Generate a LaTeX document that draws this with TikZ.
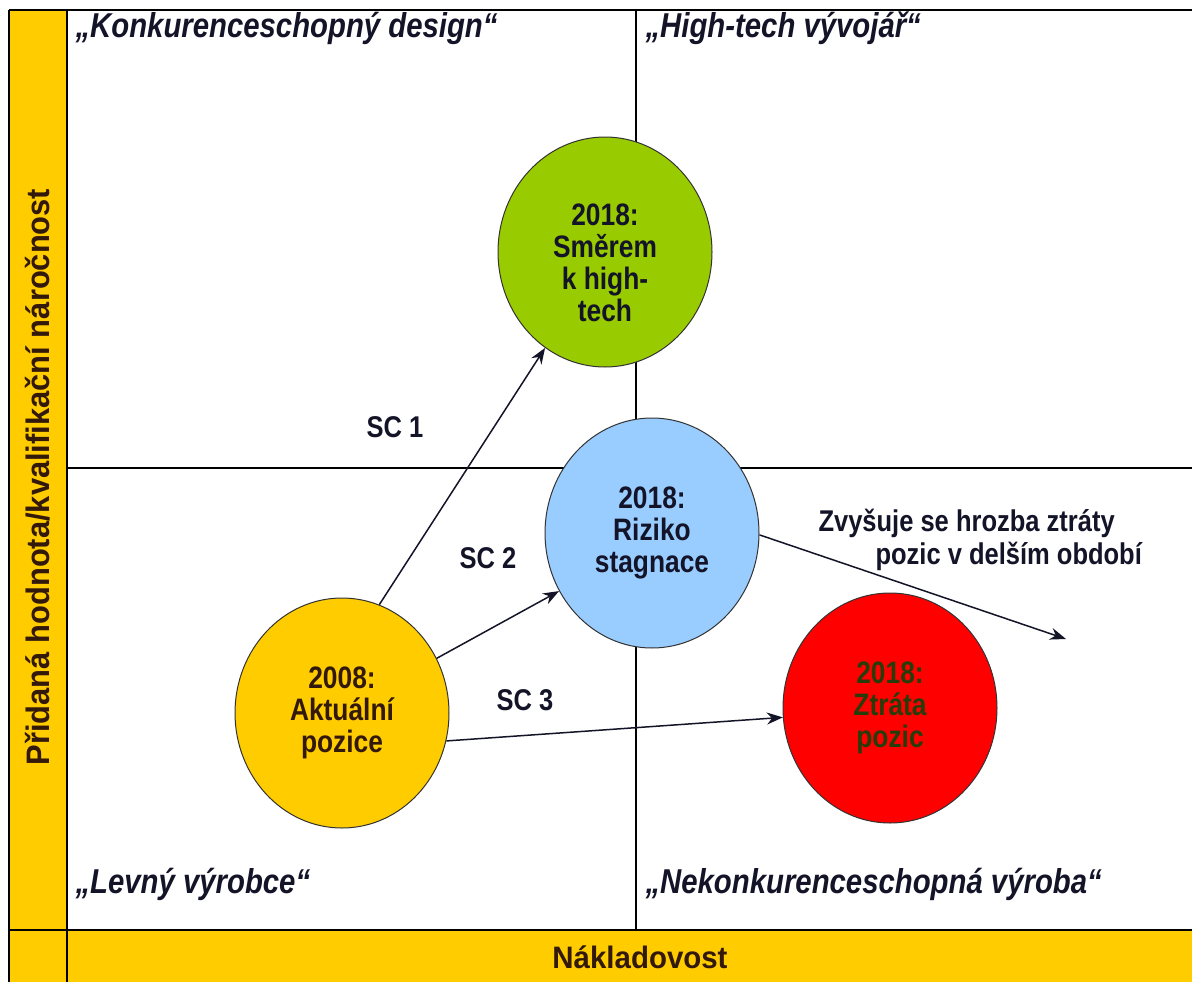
\documentclass[tikz,border=0pt]{standalone}
\usepackage{fontspec}
\setmainfont{Liberation Sans}
\newfontfamily\narrowfont[FakeStretch=0.85]{Liberation Sans}
\newfontfamily\widefont[FakeStretch=0.95]{Liberation Sans}
\usetikzlibrary{shapes.geometric,arrows.meta}

\definecolor{gold}{RGB}{255,204,0}
\definecolor{leaf}{RGB}{153,204,0}
\definecolor{sky}{RGB}{153,204,255}
\definecolor{alarm}{RGB}{255,0,0}
\definecolor{ink}{RGB}{20,20,40}
\definecolor{brownink}{RGB}{50,25,10}
\definecolor{olive}{RGB}{40,60,10}

\begin{document}
\begin{tikzpicture}[x=1pt,y=-1pt,
    bubble/.style={ellipse, draw=black!80, line width=1pt, minimum width=214pt,
        minimum height=230pt, inner sep=0pt, align=center,
        font=\narrowfont\bfseries\fontsize{31}{32}\selectfont},
    scen/.style={text=ink, font=\narrowfont\bfseries\fontsize{30}{33}\selectfont},
    quad/.style={anchor=base west, text=ink, font=\narrowfont\bfseries\itshape\fontsize{34.5}{36}\selectfont},
    axis/.style={text=brownink, font=\widefont\bfseries\fontsize{31}{33}\selectfont},
    move/.style={-{Stealth[length=16pt,width=12pt]}, line width=1.5pt, draw=ink}]
    \useasboundingbox (0,0) rectangle (1192,982);
    \fill[white] (0,0) rectangle (1192,982);
    \fill[gold] (9,10) rectangle (67,982);
    \fill[gold] (67,930) rectangle (1192,982);
    \draw[line width=2pt] (9,10) -- (1192,10);
    \draw[line width=2pt] (9,10) -- (9,982);
    \draw[line width=2pt] (9,930) -- (1192,930);
    \draw[line width=1.5pt] (67,10) -- (67,982);
    \draw[line width=1.2pt] (636,10) -- (636,930);
    \draw[line width=1.2pt] (67,468) -- (1192,468);

    \node[axis, rotate=90, font=\widefont\bfseries\fontsize{32.5}{34}\selectfont] (hodnota) at (38,477) {Přidaná hodnota/kvalifikační náročnost};
    \node[axis] (naklady) at (640,957) {Nákladovost};

    \node[quad] (designq) at (72,38) {„Konkurenceschopný design“};
    \node[quad] (hightechq) at (642,38) {„High-tech vývojář“};
    \node[quad] (levnyq) at (72,893) {„Levný výrobce“};
    \node[quad] (nekonq) at (642,893) {„Nekonkurenceschopná výroba“};

    \node[bubble, fill=leaf, text=ink] (hightech) at (605,252) {\mbox{}\\[12pt]2018:\\Směrem\\k high-\\tech};
    \node[bubble, fill=sky, text=ink] (stagnace) at (652,533) {2018:\\Riziko\\stagnace};
    \node[bubble, fill=gold, text=brownink] (aktualni) at (342,713) {2008:\\Aktuální\\pozice};
    \node[bubble, fill=alarm, text=olive] (ztrata) at (890,708) {2018:\\Ztráta\\pozic};
    \coordinate (hrozba) at (1066,639);

    \draw[move] (aktualni.71) -- (hightech.238);
    \draw[move] (aktualni.30) -- (stagnace.212);
    \draw[move] (aktualni.345) -- (ztrata.185);
    \draw[move] (stagnace.359) -- (hrozba);

    \node[scen] (sc1) at (395,427) {SC 1};
    \node[scen] (sc2) at (488,558) {SC 2};
    \node[scen] (sc3) at (525,700) {SC 3};
    \node[scen, anchor=west, align=left] (varovani) at (815,540)
        {Zvyšuje se hrozba ztráty\\\hspace*{57pt}pozic v delším období};
\end{tikzpicture}
\end{document}
